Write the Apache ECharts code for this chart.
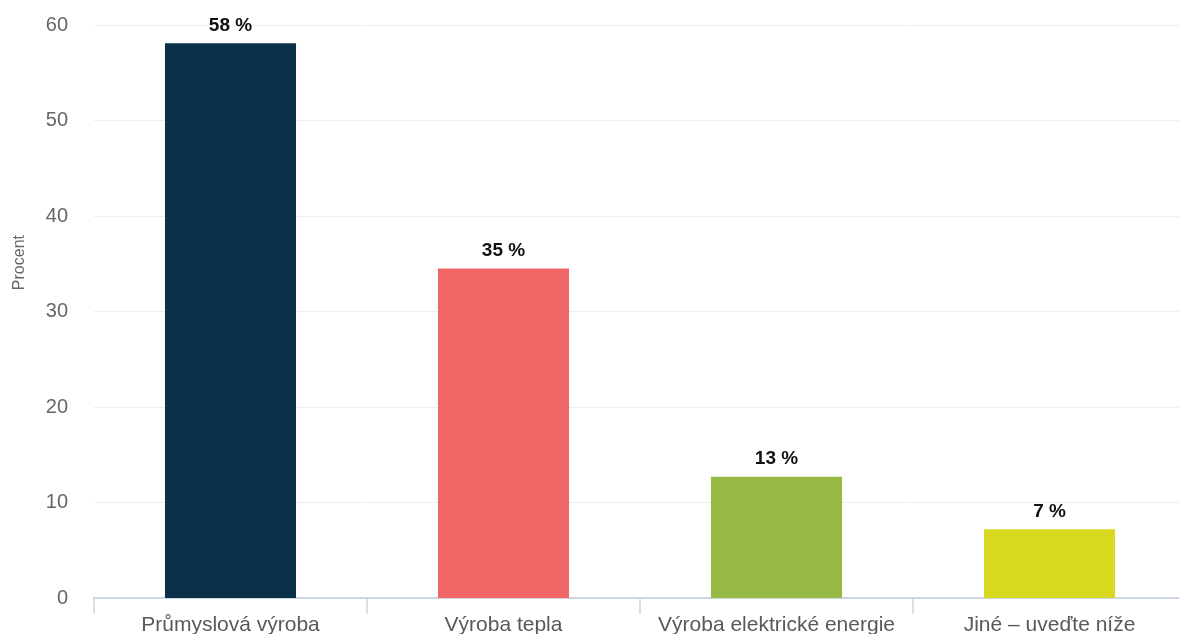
<!DOCTYPE html>
<html>
<head>
<meta charset="utf-8">
<script src="https://cdn.jsdelivr.net/npm/echarts@6/dist/echarts.min.js"></script>
<style>
  html, body { margin: 0; padding: 0; background: #fff; }
  #chart { width: 1179px; height: 634px; }
</style>
</head>
<body>
<div id="chart"></div>
<script>
// Use of fuel by purpose (percent of respondents)
const categories = ['Průmyslová výroba', 'Výroba tepla', 'Výroba elektrické energie', 'Jiné – uveďte níže'];
const values = [58.1, 34.5, 12.7, 7.2];
const barColors = ['#0b3049', '#f06666', '#95b942', '#d9d921'];
const yTicks = { min: 0, max: 60, interval: 10 };

const chart = echarts.init(document.getElementById('chart'), null, { renderer: 'canvas' });

chart.setOption({
  animation: false,
  textStyle: { fontFamily: 'Liberation Sans, Arial, sans-serif' },
  grid: { left: 94, right: -7, top: 25, bottom: 36, containLabel: false, outerBoundsMode: 'none' },
  graphic: [{
    type: 'text',
    left: 12,
    top: 235,
    rotation: Math.PI / 2,
    style: { text: 'Procent', fill: '#666', fontSize: 16, fontFamily: 'Liberation Sans, Arial, sans-serif' }
  }],
  xAxis: {
    type: 'category',
    data: categories,
    axisLine: { lineStyle: { color: '#ccd6e3', width: 2 } },
    axisTick: { show: true, length: 16, lineStyle: { color: '#ccd6e3', width: 1.5 } },
    axisLabel: { color: '#595959', fontSize: 21, margin: 17, interval: 0 }
  },
  yAxis: {
    type: 'value',
    min: yTicks.min,
    max: yTicks.max,
    interval: yTicks.interval,
    axisLine: { show: false },
    axisTick: { show: false },
    axisLabel: { color: '#666', fontSize: 20, margin: 26 },
    splitLine: { lineStyle: { color: '#eeeeee', width: 1 } }
  },
  series: [{
    type: 'bar',
    data: values.map((v, i) => ({ value: v, itemStyle: { color: barColors[i] } })),
    barWidth: '48%',
    label: {
      show: true,
      position: 'top',
      distance: 8,
      color: '#111',
      fontWeight: 'bold',
      fontSize: 19,
      formatter: p => Math.round(p.value) + ' %'
    }
  }]
});
</script>
</body>
</html>
